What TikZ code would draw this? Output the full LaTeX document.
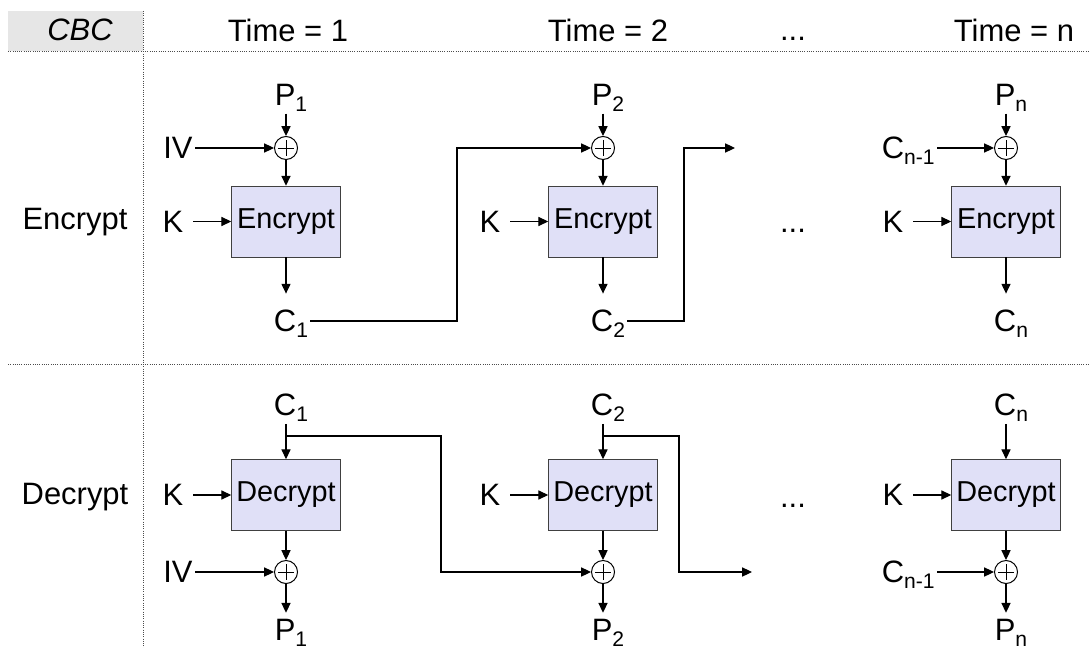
\documentclass[tikz,border=0pt]{standalone}
\usepackage{fontspec}
\setmainfont{Liberation Sans}
\usetikzlibrary{arrows.meta}
\definecolor{boxfill}{RGB}{224,224,247}
\definecolor{headfill}{RGB}{230,230,230}
\newcommand{\subs}[1]{\raisebox{-4.5pt}[0pt][0pt]{\fontsize{15}{15}\selectfont #1}}

\begin{document}
\begin{tikzpicture}[x=0.025cm, y=-0.025cm, font=\fontsize{22}{26}\selectfont]
\tikzset{%
	lbl/.style = {inner sep=1.5pt},
	keyin/.style = {inner xsep=7pt, inner ysep=1.5pt},
	cipher/.style = {draw=black!75, fill=boxfill, rectangle, minimum width=2.725cm, minimum height=1.775cm, inner sep=0pt, font=\fontsize{20.5}{24}\selectfont},
	xor/.style = {draw, circle, fill=white, minimum size=0.575cm, inner sep=0pt, line width=.7pt,
		path picture={\draw[line width=.6pt] ([xshift=-5.5pt]path picture bounding box.center) -- ([xshift=5.5pt]path picture bounding box.center)
			([yshift=-5.5pt]path picture bounding box.center) -- ([yshift=5.5pt]path picture bounding box.center);}},
	con/.style = {-{Triangle[length=7pt,width=6.5pt]}, line width=.8pt},
	grid/.style = {densely dotted, line width=.6pt, black!70}
}

\useasboundingbox (0,0) rectangle (1090,648);

% Header
\fill[headfill] (8,11) rectangle (143,51);
\draw[grid] (8,51) -- (1090,51);
\draw[grid] (8,364) -- (1090,364);
\draw[grid] (143,11) -- (143,648);

\draw node at (80,30) (hcbc) {\itshape CBC};
\draw node at (288,30) (ht1) {Time = 1};
\draw node at (608,30) (ht2) {Time = 2};
\draw node at (793,30) (htd) {\vphantom{T}...};
\draw node at (1014,30) (htn) {Time = n};

\draw node at (75,222) (lenc) {Encrypt};
\draw node at (75,497) (ldec) {Decrypt};

% Encrypt
\draw node at (291,95) [lbl] (pe1) {P\subs{1}};
\draw node at (286,148) [xor] (xe1) {};
\draw node at (286,221.5) [cipher] (ee1) {Encrypt};
\draw node at (291,321) [lbl] (ce1) {C\subs{1}};
\draw node at (178,148) [lbl] (ive) {IV};
\draw node at (173,221.5) [keyin] (ke1) {K};

\draw node at (608,95) [lbl] (pe2) {P\subs{2}};
\draw node at (603,148) [xor] (xe2) {};
\draw node at (603,221.5) [cipher] (ee2) {Encrypt};
\draw node at (608,321) [lbl] (ce2) {C\subs{2}};
\draw node at (490,221.5) [keyin] (ke2) {K};

\draw node at (793,222) (dote) {\vphantom{T}...};

\draw node at (1011,95) [lbl] (pen) {P\subs{n}};
\draw node at (1006,148) [xor] (xen) {};
\draw node at (1006,221.5) [cipher] (een) {Encrypt};
\draw node at (1011,321) [lbl] (cen) {C\subs{n}};
\draw node at (937,148) [lbl, anchor=east] (cpe) {C\subs{n-1}};
\draw node at (893,221.5) [keyin] (ken) {K};

\coordinate (le1) at (457,148);
\coordinate (le2) at (684,148);
\coordinate (oute) at (735,148);

\draw[con, shorten <=4pt] (pe1.south -| xe1) -- (xe1);
\draw[con] (ive) -- (xe1);
\draw[con] (xe1) -- (ee1);
\draw[con] (ke1) -- (ee1);
\draw[con, shorten >=10pt] (ee1) -- (ee1 |- ce1.north);
\draw[con] (ce1.east) -| (le1) -- (xe2);

\draw[con, shorten <=4pt] (pe2.south -| xe2) -- (xe2);
\draw[con] (xe2) -- (ee2);
\draw[con] (ke2) -- (ee2);
\draw[con, shorten >=10pt] (ee2) -- (ee2 |- ce2.north);
\draw[con] (ce2.east) -| (le2) -- (oute);

\draw[con, shorten <=4pt] (pen.south -| xen) -- (xen);
\draw[con] (cpe) -- (xen);
\draw[con] (xen) -- (een);
\draw[con] (ken) -- (een);
\draw[con, shorten >=10pt] (een) -- (een |- cen.north);

% Decrypt
\draw node at (291,405) [lbl] (cd1) {C\subs{1}};
\draw node at (286,495) [cipher] (dd1) {Decrypt};
\draw node at (286,572) [xor] (xd1) {};
\draw node at (291,630) [lbl] (pd1) {P\subs{1}};
\draw node at (178,572) [lbl] (ivd) {IV};
\draw node at (173,495) [keyin] (kd1) {K};

\draw node at (608,405) [lbl] (cd2) {C\subs{2}};
\draw node at (603,495) [cipher] (dd2) {Decrypt};
\draw node at (603,572) [xor] (xd2) {};
\draw node at (608,630) [lbl] (pd2) {P\subs{2}};
\draw node at (490,495) [keyin] (kd2) {K};

\draw node at (793,497) (dotd) {\vphantom{T}...};

\draw node at (1011,405) [lbl] (cdn) {C\subs{n}};
\draw node at (1006,495) [cipher] (ddn) {Decrypt};
\draw node at (1006,572) [xor] (xdn) {};
\draw node at (1011,630) [lbl] (pdn) {P\subs{n}};
\draw node at (937,572) [lbl, anchor=east] (cpd) {C\subs{n-1}};
\draw node at (893,495) [keyin] (kdn) {K};

\coordinate (td1) at (286,436);
\coordinate (ld1) at (441,572);
\coordinate (td2) at (603,436);
\coordinate (ld2) at (679,572);
\coordinate (outd) at (752,572);

\draw[con, shorten <=4pt] (cd1.south -| dd1) -- (dd1);
\draw[con] (kd1) -- (dd1);
\draw[con] (dd1) -- (xd1);
\draw[con] (ivd) -- (xd1);
\draw[con, shorten >=3pt] (xd1) -- (xd1 |- pd1.north);
\draw[con] (td1) -| (ld1) -- (xd2);

\draw[con, shorten <=4pt] (cd2.south -| dd2) -- (dd2);
\draw[con] (kd2) -- (dd2);
\draw[con] (dd2) -- (xd2);
\draw[con, shorten >=3pt] (xd2) -- (xd2 |- pd2.north);
\draw[con] (td2) -| (ld2) -- (outd);

\draw[con, shorten <=4pt] (cdn.south -| ddn) -- (ddn);
\draw[con] (kdn) -- (ddn);
\draw[con] (ddn) -- (xdn);
\draw[con] (cpd) -- (xdn);
\draw[con, shorten >=3pt] (xdn) -- (xdn |- pdn.north);

\end{tikzpicture}
\end{document}
